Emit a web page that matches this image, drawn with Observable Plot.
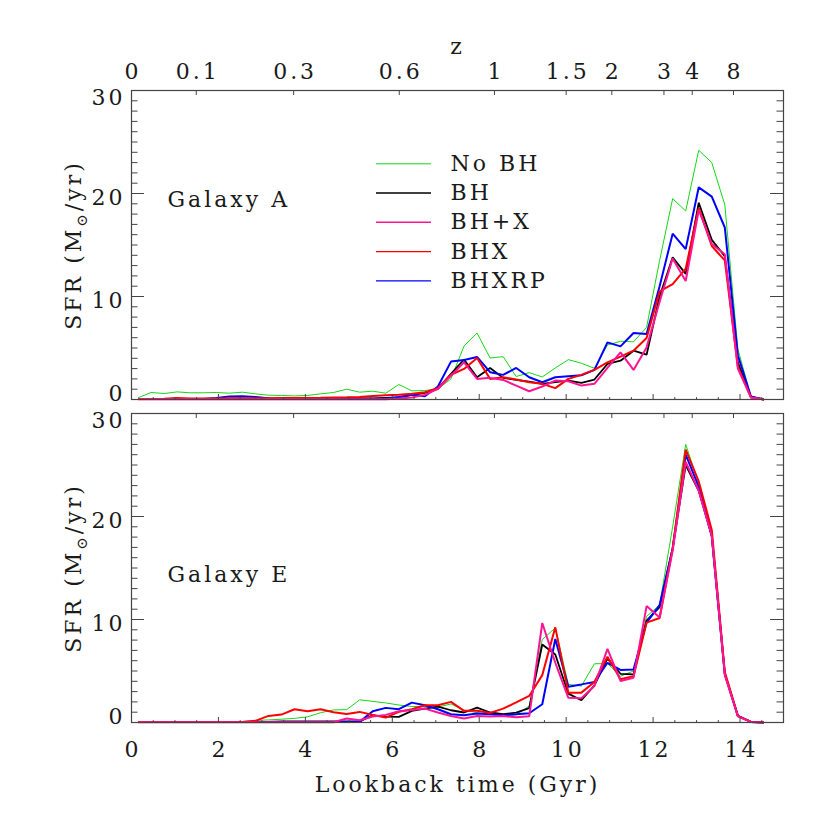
<!DOCTYPE html>
<html><head><meta charset="utf-8">
<script src="https://cdn.jsdelivr.net/npm/d3@7"></script>
<script src="https://cdn.jsdelivr.net/npm/@observablehq/plot@0.6"></script>
<style>body{margin:0;background:#fff}#chart{width:830px;height:830px}</style>
</head><body><div id="chart"></div>
<script>
// Lookback time (Gyr) of each sample
const lookback = [0.15,0.45,0.75,1.05,1.35,1.65,1.95,2.25,2.55,2.85,3.15,3.45,3.75,4.05,4.35,4.65,4.95,5.25,5.55,5.85,6.15,6.45,6.75,7.05,7.35,7.65,7.95,8.25,8.55,8.85,9.15,9.45,9.75,10.05,10.35,10.65,10.95,11.25,11.55,11.85,12.15,12.45,12.75,13.05,13.35,13.65,13.95,14.25,14.55];

// Galaxy A
const noBH_A = [0.16,0.68,0.58,0.74,0.65,0.65,0.68,0.61,0.71,0.55, 0.42,0.39,0.35,0.39,0.55,0.68,1.0,0.71,0.81,0.61, 1.46,0.84,0.87,1.03,2.0,5.19,6.45,4.03,4.16,2.23, 2.61,2.19,3.06,3.87,3.52,3.03,5.29,5.65,5.6,7.0, 13.5,19.5,18.3,24.2,23.0,18.9,4.9,0.3,0.0];
const BH_A = [0.05,0.05,0.05,0.05,0.05,0.05,0.05,0.05,0.05,0.05, 0.05,0.05,0.05,0.1,0.1,0.1,0.1,0.1,0.1,0.15, 0.2,0.45,0.65,1.03,2.5,3.87,2.16,3.06,2.1,1.9, 1.74,1.52,1.68,1.84,1.61,1.94,3.45,3.77,4.74,4.35, 10.0,13.8,12.2,19.1,15.5,13.9,3.6,0.25,0.0];
const BHplusX_A = [0.02,0.02,0.02,0.02,0.02,0.02,0.02,0.02,0.02,0.02, 0.02,0.02,0.02,0.02,0.02,0.02,0.02,0.02,0.02,0.02, 0.1,0.2,0.45,1.03,2.3,3.6,2.0,2.1,1.9,1.35, 0.8,1.26,1.84,1.77,1.35,1.52,3.06,4.58,2.87,5.06, 9.5,13.7,11.5,18.4,15.1,14.1,3.0,0.2,0.0];
const BHX_A = [0.05,0.06,0.08,0.15,0.1,0.1,0.1,0.12,0.12,0.12, 0.13,0.14,0.15,0.15,0.17,0.2,0.22,0.25,0.35,0.42, 0.45,0.55,0.7,1.1,2.4,2.97,4.03,2.0,2.16,1.94, 1.68,1.52,1.1,2.0,2.39,2.87,3.6,4.16,4.74,5.97, 10.5,11.2,12.7,18.6,14.9,13.5,3.2,0.2,0.0];
const BHXRP_A = [0.06,0.06,0.06,0.06,0.06,0.06,0.15,0.3,0.32,0.25, 0.12,0.08,0.08,0.08,0.08,0.08,0.08,0.08,0.08,0.08, 0.25,0.45,0.32,1.26,3.68,3.84,4.13,2.65,2.39,3.06, 2.16,1.68,2.16,2.26,2.35,2.87,5.55,5.16,6.45,6.35, 11.0,16.1,14.6,20.6,19.7,16.7,4.3,0.3,0.0];

// Galaxy E
const noBH_E = [0.1,0.1,0.1,0.1,0.1,0.1,0.1,0.1,0.1,0.2, 0.25,0.32,0.4,0.55,0.95,1.22,1.25,2.2,2.05,1.9, 1.7,1.55,1.55,1.5,1.8,1.2,0.95,0.8,0.6,0.75, 1.6,8.05,9.18,3.7,3.54,5.7,5.73,4.5,5.0,10.3, 11.4,19.0,27.0,23.2,18.3,4.8,0.64,0.06,0.0];
const BH_E = [0.05,0.05,0.05,0.05,0.05,0.05,0.05,0.05,0.05,0.05, 0.05,0.1,0.1,0.1,0.1,0.1,0.1,0.1,0.7,0.58, 0.55,1.13,1.35,1.55,1.19,0.97,1.45,0.97,0.8,0.95, 1.4,7.57,6.6,2.8,2.16,3.6,6.2,4.73,4.67,9.9, 11.2,16.9,25.0,22.5,18.1,4.7,0.64,0.06,0.0];
const BHplusX_E = [0.02,0.02,0.02,0.02,0.02,0.02,0.02,0.02,0.02,0.02, 0.02,0.02,0.02,0.02,0.02,0.02,0.39,0.22,0.58,0.74, 1.1,1.22,1.35,0.97,0.64,0.39,0.64,0.58,0.64,0.5, 0.6,9.66,5.8,2.4,2.35,3.54,7.15,4.03,4.35,11.3, 10.2,16.7,25.3,22.5,18.1,4.6,0.6,0.06,0.0];
const BHX_E = [0.05,0.05,0.05,0.05,0.05,0.05,0.05,0.05,0.05,0.16, 0.64,0.77,1.29,1.1,1.29,1.0,0.82,1.03,0.72,0.48, 1.03,1.29,1.67,1.68,2.0,1.13,1.15,0.93,1.35,1.95, 2.58,4.6,9.24,2.9,2.9,3.93,6.38,4.19,4.5,9.7, 10.15,16.9,26.5,23.4,18.7,4.9,0.64,0.06,0.0];
const BHXRP_E = [0.06,0.06,0.06,0.06,0.06,0.06,0.06,0.06,0.06,0.06, 0.06,0.06,0.06,0.06,0.06,0.06,0.06,0.06,1.1,1.42, 1.29,1.93,1.67,1.29,0.8,0.71,0.87,0.8,0.71,0.8, 0.9,1.77,8.1,3.48,3.7,3.93,5.8,5.1,5.15,9.7, 11.4,16.9,26.0,22.9,18.1,4.7,0.64,0.06,0.0];

const models = ["No BH","BH","BH+X","BHX","BHXRP"];
const galaxies = ["A","E"];
const galaxyNames = ["Galaxy A","Galaxy E"];
const seriesA = [noBH_A, BH_A, BHplusX_A, BHX_A, BHXRP_A];
const seriesE = [noBH_E, BH_E, BHplusX_E, BHX_E, BHXRP_E];

// Axis ticks
const xMajorTicks = [0,2,4,6,8,10,12,14];
const xMinorTicks = [0.5,1,1.5,2.5,3,3.5,4.5,5,5.5,6.5,7,7.5,8.5,9,9.5,10.5,11,11.5,12.5,13,13.5,14.5];
const zLabels = ["0","0.1","0.3","0.6","1","1.5","2","3","4","8"];
const zLookback = [0,1.49,3.73,6.16,8.35,10.0,11.05,12.25,12.9,13.85];
const yMajorTicks = [0,10,20,30];
const yMinorTicks = d3.range(1,30).filter(v => v % 10 !== 0);

// Styles
const colors = {"No BH":"#14d814","BH":"#000000","BH+X":"#ff1493","BHX":"#ff0000","BHXRP":"#0000ff"};
const lineW = {"No BH":1,"BH":1.8,"BH+X":2,"BHX":2,"BHXRP":2};
const legendW = {"No BH":1,"BH":1.6,"BH+X":1.6,"BHX":1.2,"BHXRP":1.2};
const drawOrder = ["No BH","BH","BHXRP","BHX","BH+X"];

const rows = [];
galaxies.forEach((g, gi) => {
  const S = gi === 0 ? seriesA : seriesE;
  models.forEach((m, mi) => {
    S[mi].forEach((v, k) => rows.push({galaxy: g, model: m, t: lookback[k], sfr: v}));
  });
});
const zTicks = zLabels.map((z, i) => ({z, t: zLookback[i]}));

const W = 830, H = 830, mL = 131, mR = 47, mT = 89, mB = 107;
const pad = 0.042;
const FW = W - mL - mR;
const FH = (H - mT - mB) / (2 - pad) * (1 - pad);
const FS = 22;
const tickC = "#444";
const yTitle = "SFR (M\u2299/yr)";
const T = {fontSize: FS, lineAnchor: "middle", fill: "#1a1a1a"};

const marks = [];
for (const m of drawOrder) {
  marks.push(Plot.line(rows.filter(d => d.model === m), {
    x: "t", y: "sfr", fy: "galaxy", stroke: colors[m], strokeWidth: lineW[m],
    strokeLinejoin: "miter", strokeLinecap: "butt"
  }));
}
// ticks (inward, on all four sides)
marks.push(
  Plot.tickX(xMajorTicks, {x: d => d, insetTop: FH - 6.2, stroke: tickC}),
  Plot.tickX(xMinorTicks, {x: d => d, insetTop: FH - 3.1, stroke: tickC}),
  Plot.tickX(zLookback, {x: d => d, insetBottom: FH - 6.2, stroke: tickC}),
  Plot.tickY(yMajorTicks, {y: d => d, insetRight: FW - 13, stroke: tickC}),
  Plot.tickY(yMinorTicks, {y: d => d, insetRight: FW - 6.5, stroke: tickC}),
  Plot.tickY(yMajorTicks, {y: d => d, insetLeft: FW - 13, stroke: tickC}),
  Plot.tickY(yMinorTicks, {y: d => d, insetLeft: FW - 6.5, stroke: tickC}),
  Plot.frame({stroke: tickC, strokeWidth: 1.2})
);
// y tick labels
marks.push(
  Plot.text(yMajorTicks.filter(v => v === 10 || v === 20), {...T, y: d => d, text: d => String(d), frameAnchor: "left", dx: -6, dy: 4, textAnchor: "end"}),
  Plot.text(yMajorTicks.filter(v => v === 30), {...T, y: d => d, text: d => String(d), frameAnchor: "left", dx: -6, dy: 7, textAnchor: "end"}),
  Plot.text(yMajorTicks.filter(v => v === 0), {...T, y: d => d, text: d => String(d), frameAnchor: "left", dx: -6, dy: -6, textAnchor: "end"})
);
// x tick labels and title (bottom panel only)
marks.push(
  Plot.text(xMajorTicks, {...T, x: d => d, text: d => String(d), fy: () => "E", frameAnchor: "bottom", dy: 27, dx: 1.5, textAnchor: "middle"}),
  Plot.text(["Lookback time (Gyr)"], {...T, text: d => d, fy: () => "E", frameAnchor: "bottom", dy: 62, textAnchor: "middle"})
);
// redshift labels (top panel only)
marks.push(
  Plot.text(zTicks, {...T, x: "t", text: "z", fy: () => "A", frameAnchor: "top", dy: -19, dx: 1.5, textAnchor: "middle"}),
  Plot.text(["z"], {...T, text: d => d, fy: () => "A", frameAnchor: "top", dy: -44, textAnchor: "middle"})
);
// y titles and galaxy labels
marks.push(
  Plot.text([yTitle], {...T, text: d => d, frameAnchor: "left", dx: -58, rotate: -90, textAnchor: "middle"}),
  Plot.text([galaxyNames[0]], {...T, text: d => d, fy: () => "A", frameAnchor: "top-left", dx: 36, dy: 109, textAnchor: "start"}),
  Plot.text([galaxyNames[1]], {...T, text: d => d, fy: () => "E", frameAnchor: "top-left", dx: 36, dy: 161, textAnchor: "start"})
);
// legend
models.forEach((m, i) => {
  const dy = 73.3 + 29.25 * i;
  marks.push(
    Plot.tickY([30], {y: d => d, fy: () => "A", dy, insetLeft: 245, insetRight: FW - 300, stroke: colors[m], strokeWidth: legendW[m]}),
    Plot.text([m], {...T, text: d => d, fy: () => "A", frameAnchor: "top-left", dx: 319, dy, textAnchor: "start"})
  );
});

const chart = Plot.plot({
  width: W, height: H,
  marginLeft: mL, marginRight: mR, marginTop: mT, marginBottom: mB,
  x: {domain: [0, 15], axis: null},
  y: {domain: [0, 30], axis: null},
  fy: {domain: galaxies, paddingInner: pad, paddingOuter: 0, axis: null},
  style: {fontFamily: "'DejaVu Serif', serif", background: "#fff", color: "#111"},
  marks
});
chart.style.letterSpacing = "3px";
document.getElementById("chart").appendChild(chart);

// subscript sun symbol in the y titles
d3.select(chart).selectAll("text").filter(function () { return this.textContent === yTitle; }).each(function () {
  const t = d3.select(this);
  t.text(null);
  t.append("tspan").text("SFR (M");
  t.append("tspan").text("\u2299").attr("font-size", 15).attr("dy", 6);
  t.append("tspan").text("/yr)").attr("dy", -6);
});
</script></body></html>
